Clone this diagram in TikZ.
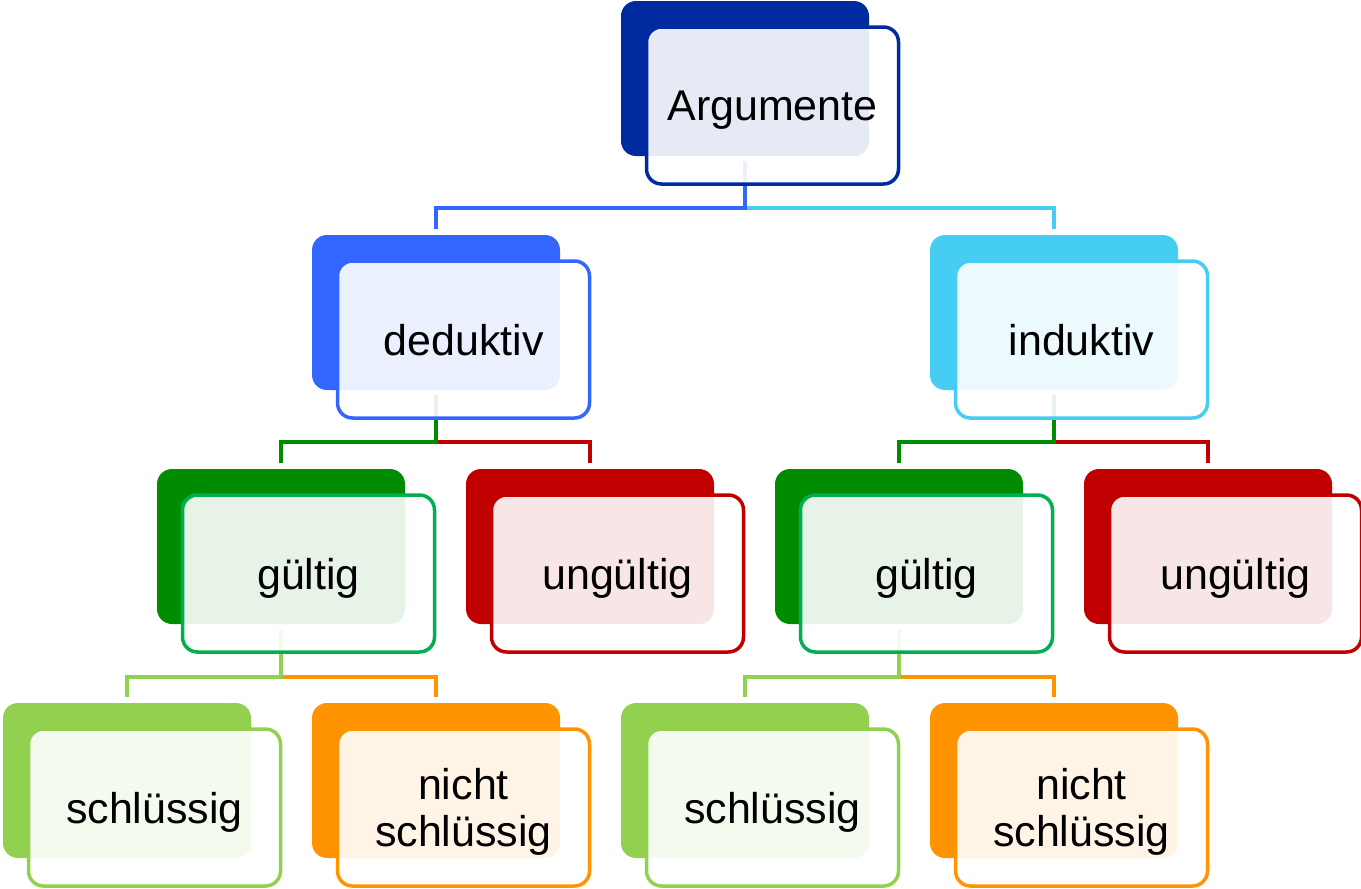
\documentclass[tikz,border=0pt]{standalone}
\usepackage{fontspec}
\setmainfont{Liberation Sans}
\usepackage{tikz}

\definecolor{argblue}{RGB}{0,42,160}
\definecolor{dedblue}{RGB}{51,102,255}
\definecolor{indcyan}{RGB}{69,206,242}
\definecolor{gueldark}{RGB}{0,140,0}
\definecolor{guelline}{RGB}{0,176,80}
\definecolor{ungred}{RGB}{192,0,0}
\definecolor{schgreen}{RGB}{146,208,80}
\definecolor{nschorange}{RGB}{255,147,0}

\begin{document}
\begin{tikzpicture}[x=1pt,y=-1pt,
    backbox/.style={fill=#1,rounded corners=15pt,inner sep=0pt,
      minimum width=248pt,minimum height=155pt},
    frontbox/.style={draw=#1,line width=3.5pt,fill=white,fill opacity=0.9,
      text opacity=1,rounded corners=15pt,inner sep=0pt,align=center,
      minimum width=252pt,minimum height=157pt,text depth=0pt,
      font=\fontsize{43}{47}\selectfont},
    link/.style={draw=#1,line width=3.5pt}]

    \useasboundingbox (0,0) rectangle (1361,889);

    % hintere Kaesten
    \node[backbox=argblue] (argB) at (745,78.5) {};

    \node[backbox=dedblue] (dedB) at (436,312.5) {};
    \node[backbox=indcyan] (indB) at (1054,312.5) {};

    \node[backbox=gueldark] (guelLB) at (281,546.5) {};
    \node[backbox=ungred] (ungLB) at (590,546.5) {};
    \node[backbox=gueldark] (guelRB) at (899,546.5) {};
    \node[backbox=ungred] (ungRB) at (1208,546.5) {};

    \node[backbox=schgreen] (schLB) at (127,780.5) {};
    \node[backbox=nschorange] (nschLB) at (436,780.5) {};
    \node[backbox=schgreen] (schRB) at (745,780.5) {};
    \node[backbox=nschorange] (nschRB) at (1054,780.5) {};

    % Verbindungen
    \draw[link=indcyan] ([yshift=-5pt]argB.south)
      |- ([yshift=27pt]indB.north) -- ([yshift=6pt]indB.north);
    \draw[link=dedblue] ([yshift=-5pt]argB.south)
      |- ([yshift=27pt]dedB.north) -- ([yshift=6pt]dedB.north);

    \draw[link=ungred] ([yshift=-5pt]dedB.south)
      |- ([yshift=27pt]ungLB.north) -- ([yshift=6pt]ungLB.north);
    \draw[link=gueldark] ([yshift=-5pt]dedB.south)
      |- ([yshift=27pt]guelLB.north) -- ([yshift=6pt]guelLB.north);

    \draw[link=ungred] ([yshift=-5pt]indB.south)
      |- ([yshift=27pt]ungRB.north) -- ([yshift=6pt]ungRB.north);
    \draw[link=gueldark] ([yshift=-5pt]indB.south)
      |- ([yshift=27pt]guelRB.north) -- ([yshift=6pt]guelRB.north);

    \draw[link=nschorange] ([yshift=-5pt]guelLB.south)
      |- ([yshift=26pt]nschLB.north) -- ([yshift=6pt]nschLB.north);
    \draw[link=schgreen] ([yshift=-5pt]guelLB.south)
      |- ([yshift=26pt]schLB.north) -- ([yshift=6pt]schLB.north);

    \draw[link=nschorange] ([yshift=-5pt]guelRB.south)
      |- ([yshift=26pt]nschRB.north) -- ([yshift=6pt]nschRB.north);
    \draw[link=schgreen] ([yshift=-5pt]guelRB.south)
      |- ([yshift=26pt]schRB.north) -- ([yshift=6pt]schRB.north);

    % vordere Kaesten mit Text
    \node[frontbox=argblue] (arg) at (772.5,105.5) {Argumente};

    \node[frontbox=dedblue] (ded) at (463.5,339.5) {deduktiv};
    \node[frontbox=indcyan] (ind) at (1081.5,339.5) {induktiv};

    \node[frontbox=guelline] (guelL) at (308.5,573.5) {gültig};
    \node[frontbox=ungred] (ungL) at (617.5,573.5) {ungültig};
    \node[frontbox=guelline] (guelR) at (926.5,573.5) {gültig};
    \node[frontbox=ungred] (ungR) at (1235.5,573.5) {ungültig};

    \node[frontbox=schgreen] (schL) at (154.5,807.5) {schlüssig};
    \node[frontbox=nschorange] (nschL) at (463.5,807.5) {nicht\\schlüssig};
    \node[frontbox=schgreen] (schR) at (772.5,807.5) {schlüssig};
    \node[frontbox=nschorange] (nschR) at (1081.5,807.5) {nicht\\schlüssig};

\end{tikzpicture}
\end{document}
